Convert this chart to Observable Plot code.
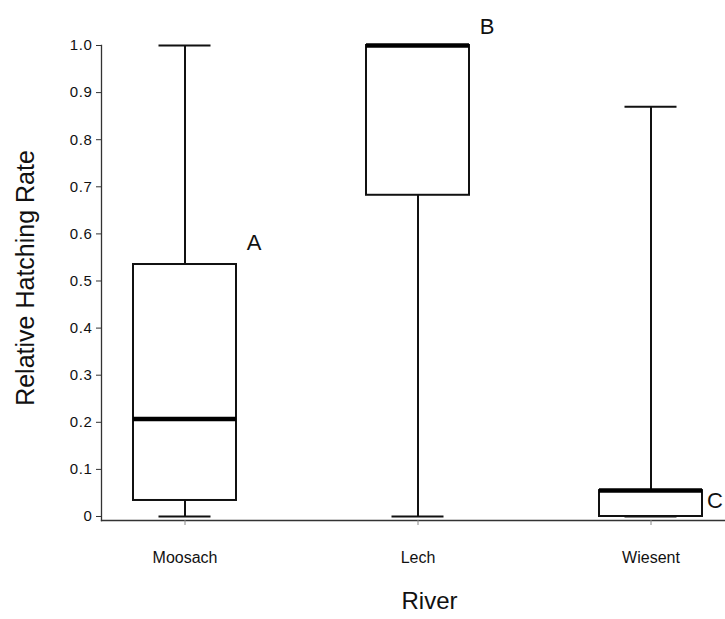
<!DOCTYPE html>
<html>
<head>
<meta charset="utf-8">
<script src="https://cdn.jsdelivr.net/npm/d3@7"></script>
<script src="https://cdn.jsdelivr.net/npm/@observablehq/plot@0.6"></script>
<style>
  html, body { margin: 0; padding: 0; background: #fff; overflow: hidden; }
  #chart svg { overflow: visible; }
  #chart g[aria-label="y-axis tick label"] text { letter-spacing: 0.6px; }
</style>
</head>
<body>
<div id="chart"></div>
<script>
// Relative hatching rate per river, summarised as box plots
const rivers   = ["Moosach", "Lech", "Wiesent"];
const minVals  = [0.0,   0.0,   0.0];
const q1Vals   = [0.034, 0.682, 0.0];
const medVals  = [0.207, 1.0,   0.055];
const q3Vals   = [0.535, 1.0,   0.055];
const maxVals  = [1.0,   1.0,   0.87];

// significance group letters and where they sit
const letters  = ["A", "B", "C"];
const letterY  = [0.58, 1.04, 0.034];

const yTicks = [0, 0.1, 0.2, 0.3, 0.4, 0.5, 0.6, 0.7, 0.8, 0.9, 1.0];

const boxes = rivers.map((r, i) => ({
  river: r, min: minVals[i], q1: q1Vals[i], median: medVals[i], q3: q3Vals[i], max: maxVals[i]
}));
const tags = rivers.map((r, i) => ({river: r, letter: letters[i], y: letterY[i]}));

const W = 725, H = 619;
const font = "'Liberation Sans', Arial, Helvetica, sans-serif";

const chart = Plot.plot({
  width: W,
  height: H,
  marginTop: 45,
  marginLeft: 101,
  marginRight: 0,
  marginBottom: 99,
  style: {fontFamily: font, color: "#111", background: "#fff"},
  x: {type: "band", domain: rivers, range: [101, 734], paddingInner: 0.559, paddingOuter: 0.135, align: 0.5},
  y: {domain: [-0.0085, 1]},
  marks: [
    Plot.frame({anchor: "left", stroke: "#333", strokeWidth: 1.3}),
    Plot.frame({anchor: "bottom", stroke: "#333", strokeWidth: 1.3}),
    Plot.axisY({
      ticks: yTicks, tickSize: 5, tickPadding: 4, fontSize: 15,
      tickFormat: d => d === 0 ? "0" : d.toFixed(1), label: null, stroke: "#333"
    }),
    Plot.axisX({tickSize: 5, tickPadding: 26, fontSize: 16, label: null, stroke: "#888"}),
    // whiskers
    Plot.ruleX(boxes, {x: "river", y1: "q3", y2: "max", stroke: "#111", strokeWidth: 2}),
    Plot.ruleX(boxes, {x: "river", y1: "min", y2: "q1", stroke: "#111", strokeWidth: 2}),
    // boxes
    Plot.barY(boxes, {x: "river", y1: "q1", y2: "q3", fill: "white", stroke: "#111", strokeWidth: 2}),
    // whisker caps
    Plot.tickY(boxes, {x: "river", y: "max", stroke: "#111", strokeWidth: 2, insetLeft: 25.5, insetRight: 25.5}),
    Plot.tickY(boxes, {x: "river", y: "min", stroke: "#111", strokeWidth: 2, insetLeft: 25.5, insetRight: 25.5}),
    // medians
    Plot.tickY(boxes, {x: "river", y: "median", stroke: "#000", strokeWidth: 4.5}),
    // group letters
    Plot.text(tags, {filter: d => d.letter !== "C", x: "river", y: "y", text: "letter", dx: 69, fontSize: 22, fill: "#111"}),
    Plot.text(tags, {filter: d => d.letter === "C", x: "river", y: "y", text: "letter", dx: 64, fontSize: 22, fill: "#111"}),
    // axis titles
    Plot.text(["Relative Hatching Rate"], {frameAnchor: "left", textAnchor: "middle", dx: -76, dy: -5, rotate: -90, fontSize: 25, fill: "#111"}),
    Plot.text(["River"], {frameAnchor: "bottom", dx: 16, dy: 88, fontSize: 24, fill: "#111"})
  ]
});

document.getElementById("chart").appendChild(chart);
</script>
</body>
</html>
